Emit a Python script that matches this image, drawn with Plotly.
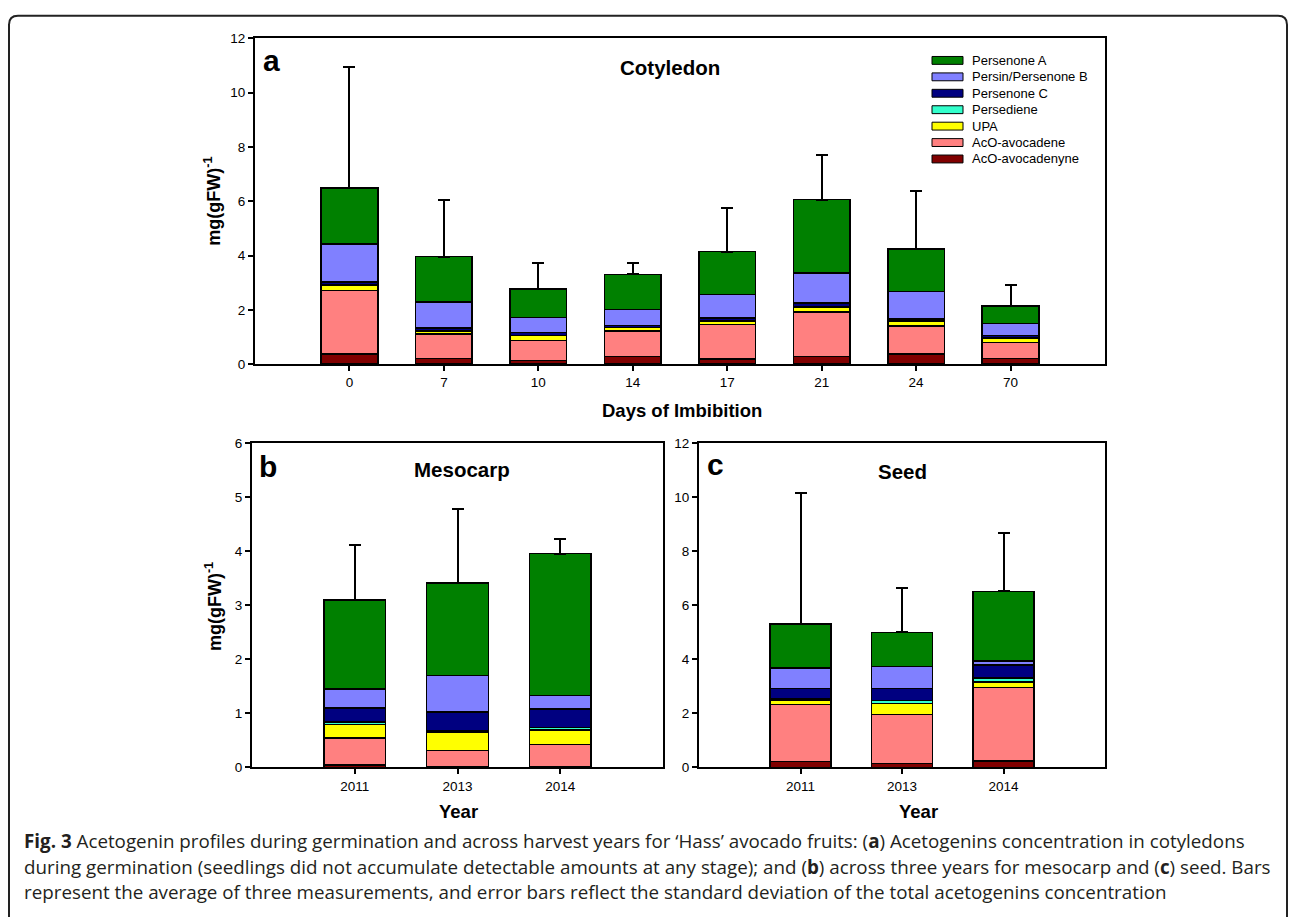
import plotly.graph_objects as go

W, H = 1290, 919

# ---------------- data ----------------
series_names = ["AcO-avocadenyne", "AcO-avocadene", "UPA", "Persediene",
                "Persenone C", "Persin/Persenone B", "Persenone A"]
series_colors = ["#800000", "#FF8080", "#FFFF00", "#33FFCC",
                 "#000080", "#8080FF", "#008000"]

days = ["0", "7", "10", "14", "17", "21", "24", "70"]
cot_avocadenyne = [0.38, 0.21, 0.13, 0.28, 0.19, 0.28, 0.37, 0.21]
cot_avocadene = [2.33, 0.89, 0.73, 0.94, 1.27, 1.63, 1.03, 0.59]
cot_upa = [0.20, 0.12, 0.19, 0.12, 0.11, 0.20, 0.17, 0.17]
cot_persediene = [0.01, 0.01, 0.01, 0.01, 0.01, 0.01, 0.01, 0.01]
cot_persenone_c = [0.11, 0.10, 0.10, 0.08, 0.12, 0.14, 0.09, 0.08]
cot_persin = [1.39, 0.95, 0.56, 0.59, 0.87, 1.10, 1.00, 0.44]
cot_persenone_a = [2.07, 1.68, 1.05, 1.29, 1.57, 2.70, 1.58, 0.64]
cot_sd = [4.46, 2.07, 0.94, 0.40, 1.60, 1.66, 2.14, 0.77]

years = ["2011", "2013", "2014"]
meso_avocadenyne = [0.04, 0.01, 0.01]
meso_avocadene = [0.50, 0.30, 0.41]
meso_upa = [0.25, 0.34, 0.27]
meso_persediene = [0.05, 0.03, 0.05]
meso_persenone_c = [0.26, 0.34, 0.34]
meso_persin = [0.35, 0.68, 0.25]
meso_persenone_a = [1.64, 1.71, 2.62]
meso_sd = [1.02, 1.37, 0.27]

seed_avocadenyne = [0.21, 0.15, 0.23]
seed_avocadene = [2.12, 1.80, 2.72]
seed_upa = [0.14, 0.41, 0.20]
seed_persediene = [0.06, 0.12, 0.16]
seed_persenone_c = [0.39, 0.43, 0.47]
seed_persin = [0.75, 0.82, 0.15]
seed_persenone_a = [1.63, 1.26, 2.58]
seed_sd = [4.85, 1.63, 2.14]

cot_series = [cot_avocadenyne, cot_avocadene, cot_upa, cot_persediene,
              cot_persenone_c, cot_persin, cot_persenone_a]
meso_series = [meso_avocadenyne, meso_avocadene, meso_upa, meso_persediene,
               meso_persenone_c, meso_persin, meso_persenone_a]
seed_series = [seed_avocadenyne, seed_avocadene, seed_upa, seed_persediene,
               seed_persenone_c, seed_persin, seed_persenone_a]

cot_yticks = [0, 2, 4, 6, 8, 10, 12]
meso_yticks = [0, 1, 2, 3, 4, 5, 6]
seed_yticks = [0, 2, 4, 6, 8, 10, 12]

caption_lines = [
    "<b>Fig. 3</b> Acetogenin profiles during germination and across harvest years for \u2018Hass\u2019 avocado fruits: (<b>a</b>) Acetogenins concentration in cotyledons",
    "during germination (seedlings did not accumulate detectable amounts at any stage); and (<b>b</b>) across three years for mesocarp and (<b>c</b>) seed. Bars",
    "represent the average of three measurements, and error bars reflect the standard deviation of the total acetogenins concentration",
]

# ---------------- helpers ----------------
def px(x):
    return x / W


def py(y):
    return 1 - y / H


FONT = "Liberation Sans, Arial, sans-serif"

fig = go.Figure()


def add_panel(cats, series, sd, xa, ya):
    n = len(series)
    for i, (name, color, vals) in enumerate(zip(series_names, series_colors, series)):
        kw = {}
        if i == n - 1:
            kw["error_y"] = dict(type="data", symmetric=False, array=sd,
                                 arrayminus=[0] * len(sd), color="black",
                                 thickness=2, width=6)
        fig.add_trace(go.Bar(
            x=cats, y=vals, name=name, xaxis=xa, yaxis=ya,
            marker=dict(color=color, line=dict(color="black", width=1.5)),
            width=0.6, showlegend=False, **kw))


add_panel(days, cot_series, cot_sd, "x", "y")
add_panel(years, meso_series, meso_sd, "x2", "y2")
add_panel(years, seed_series, seed_sd, "x3", "y3")

axis_common = dict(showline=True, linewidth=2, linecolor="black", mirror=True,
                   ticks="outside", ticklen=5, tickwidth=2, tickcolor="black",
                   showgrid=False, zeroline=False,
                   tickfont=dict(family=FONT, size=13.5, color="black"))

fig.update_layout(
    width=W, height=H, margin=dict(l=0, r=0, t=0, b=0),
    paper_bgcolor="white", plot_bgcolor="white",
    barmode="stack", showlegend=False,
    xaxis=dict(domain=[px(255), px(1105)], anchor="y", type="category",
               range=[-1, len(days)], **axis_common),
    yaxis=dict(domain=[py(363), py(32)], anchor="x", range=[0, 12],
               tickvals=cot_yticks, **axis_common),
    xaxis2=dict(domain=[px(252), px(663)], anchor="y2", type="category",
                range=[-1, len(years)], **axis_common),
    yaxis2=dict(domain=[py(773), py(443)], anchor="x2", range=[0, 6],
                tickvals=meso_yticks, **axis_common),
    xaxis3=dict(domain=[px(699), px(1105)], anchor="y3", type="category",
                range=[-1, len(years)], **axis_common),
    yaxis3=dict(domain=[py(773), py(443)], anchor="x3", range=[0, 12],
                tickvals=seed_yticks, **axis_common),
)

ann = []


def text(x, y, s, size, bold=False, angle=0, xanchor="center", family=FONT, color="black"):
    ann.append(dict(x=px(x), y=py(y), xref="paper", yref="paper",
                    text=f"<b>{s}</b>" if bold else s, showarrow=False,
                    xanchor=xanchor, yanchor="middle", textangle=angle,
                    font=dict(family=family, size=size, color=color)))


# panel letters and titles
text(271, 54, "a", 30, bold=True)
text(670, 62, "Cotyledon", 20.5, bold=True)
text(268, 467, "b", 30, bold=True)
text(462, 470, "Mesocarp", 20.5, bold=True)
text(715, 465, "c", 30, bold=True)
text(902, 472, "Seed", 20.5, bold=True)

# axis titles
text(213, 198, "mg(gFW)<sup>-1</sup>", 18, bold=True, angle=-90)
text(213, 610, "mg(gFW)<sup>-1</sup>", 18, bold=True, angle=-90)
text(682, 410, "Days of Imbibition", 18.5, bold=True)
text(458, 818, "Year", 18.5, bold=True)
text(918, 818, "Year", 18.5, bold=True)

# legend (custom swatches, top item = last stacked series)
shapes = []
for k, (name, color) in enumerate(zip(series_names[::-1], series_colors[::-1])):
    cy = 54.3 + 16.7 * k
    shapes.append(dict(type="rect", xref="paper", yref="paper",
                       x0=px(932), x1=px(963), y0=py(cy + 4), y1=py(cy - 4),
                       fillcolor=color, line=dict(color="black", width=1)))
    text(970, cy, name, 13, xanchor="left")

# caption
for k, line in enumerate(caption_lines):
    text(22, 848 + 26 * k, line, 18.8, xanchor="left", family="Open Sans, Noto Sans, sans-serif",
         color="#231f20")

# outer rounded border
r = 9
border = (f"M {px(9)},{py(925)} L {px(9)},{py(9 + r)} Q {px(9)},{py(9)} {px(9 + r)},{py(9)} "
          f"L {px(1287 - r)},{py(9)} Q {px(1287)},{py(9)} {px(1287)},{py(9 + r)} L {px(1287)},{py(925)}")
shapes.append(dict(type="path", xref="paper", yref="paper", path=border,
                   line=dict(color="#222222", width=2)))

fig.update_layout(annotations=ann, shapes=shapes)

fig.write_html("out.html")
